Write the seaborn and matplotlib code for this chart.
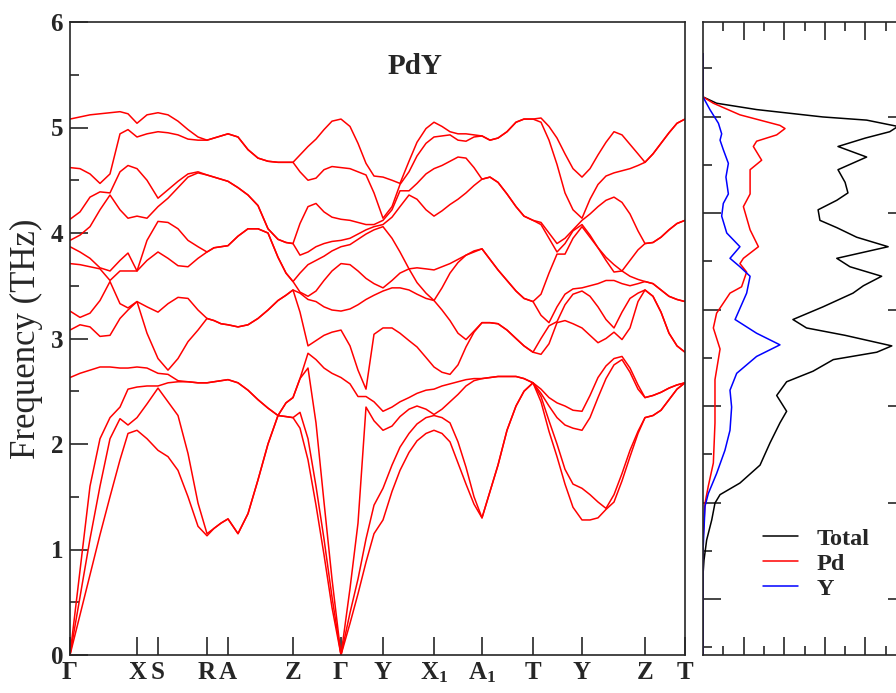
import numpy as np
import pandas as pd
import matplotlib
matplotlib.use('Agg')
import matplotlib.pyplot as plt
from matplotlib.lines import Line2D
from matplotlib.ticker import MultipleLocator, FixedLocator
import seaborn as sns

# high-symmetry points along the k-path
hs_k = [0, 67, 88, 137, 158, 223, 271, 313, 364, 412, 463, 512, 575, 615]
hs_labels = ['Γ', 'X', 'S', 'R', 'A', 'Z', 'Γ', 'Y', 'X$_1$', 'A$_1$', 'T', 'Y', 'Z', 'T']

# phonon frequencies (THz), 12 branches sorted low->high at each k point
k_gx = [0, 10, 20, 30, 40, 50, 58, 67]
w_gx = [[0, 0, 0, 2.63, 3.08, 3.26, 3.71, 3.87, 3.93, 4.13, 4.62, 5.08],
        [0.38, 0.55, 0.80, 2.67, 3.13, 3.20, 3.70, 3.82, 3.98, 4.20, 4.61, 5.10],
        [0.76, 1.10, 1.60, 2.70, 3.11, 3.24, 3.68, 3.76, 4.06, 4.34, 4.56, 5.12],
        [1.14, 1.60, 2.05, 2.73, 3.02, 3.36, 3.66, 3.67, 4.22, 4.39, 4.47, 5.13],
        [1.50, 2.05, 2.25, 2.73, 3.03, 3.54, 3.55, 3.64, 4.36, 4.38, 4.56, 5.14],
        [1.85, 2.24, 2.35, 2.72, 3.19, 3.33, 3.64, 3.74, 4.22, 4.58, 4.94, 5.15],
        [2.10, 2.18, 2.52, 2.72, 3.27, 3.29, 3.64, 3.81, 4.14, 4.64, 4.98, 5.13],
        [2.13, 2.25, 2.54, 2.73, 3.35, 3.35, 3.64, 3.64, 4.16, 4.61, 4.91, 5.04]]

k_xs = [77, 88]
w_xs = [[2.05, 2.38, 2.55, 2.72, 3.05, 3.30, 3.74, 3.93, 4.14, 4.50, 4.94, 5.12],
        [1.94, 2.53, 2.55, 2.67, 2.81, 3.25, 3.82, 4.11, 4.25, 4.33, 4.96, 5.14]]

k_sr = [98, 108, 118, 128, 137]
w_sr = [[1.88, 2.40, 2.58, 2.66, 2.70, 3.33, 3.76, 4.10, 4.33, 4.41, 4.95, 5.12],
        [1.75, 2.27, 2.59, 2.60, 2.81, 3.39, 3.69, 4.04, 4.43, 4.49, 4.93, 5.06],
        [1.50, 1.91, 2.59, 2.59, 2.97, 3.38, 3.68, 3.93, 4.53, 4.56, 4.89, 4.98],
        [1.22, 1.44, 2.58, 2.58, 3.08, 3.27, 3.76, 3.87, 4.57, 4.58, 4.88, 4.91],
        [1.13, 1.15, 2.58, 2.58, 3.19, 3.19, 3.82, 3.82, 4.55, 4.55, 4.88, 4.88]]

k_ra = [144, 151, 158]
w_ra = [[1.20, 1.20, 2.59, 2.59, 3.17, 3.17, 3.86, 3.86, 4.53, 4.53, 4.90, 4.90],
        [1.25, 1.25, 2.60, 2.60, 3.14, 3.14, 3.87, 3.87, 4.51, 4.51, 4.92, 4.92],
        [1.29, 1.29, 2.61, 2.61, 3.13, 3.13, 3.88, 3.88, 4.49, 4.49, 4.94, 4.94]]

k_az = [168, 178, 188, 198, 208, 216, 223]
w_az = [[1.15, 1.15, 2.58, 2.58, 3.11, 3.11, 3.97, 3.97, 4.43, 4.43, 4.91, 4.91],
        [1.34, 1.34, 2.51, 2.51, 3.13, 3.13, 4.04, 4.04, 4.36, 4.36, 4.79, 4.79],
        [1.66, 1.66, 2.42, 2.42, 3.19, 3.19, 4.04, 4.04, 4.26, 4.26, 4.71, 4.71],
        [2.00, 2.00, 2.34, 2.34, 3.27, 3.27, 4.00, 4.00, 4.04, 4.04, 4.68, 4.68],
        [2.27, 2.27, 2.27, 2.27, 3.36, 3.36, 3.77, 3.77, 3.94, 3.94, 4.67, 4.67],
        [2.26, 2.26, 2.39, 2.39, 3.41, 3.41, 3.62, 3.62, 3.91, 3.91, 4.67, 4.67],
        [2.25, 2.25, 2.44, 2.44, 3.46, 3.46, 3.54, 3.54, 3.90, 3.90, 4.67, 4.67]]

k_zg = [230, 238, 246, 254, 262, 271]
w_zg = [[2.15, 2.30, 2.62, 2.62, 3.25, 3.43, 3.44, 3.62, 3.79, 4.09, 4.58, 4.74],
        [1.85, 2.05, 2.72, 2.86, 2.93, 3.37, 3.40, 3.70, 3.82, 4.25, 4.50, 4.82],
        [1.42, 1.60, 2.20, 2.80, 2.98, 3.35, 3.45, 3.74, 3.87, 4.28, 4.52, 4.89],
        [0.95, 1.10, 1.45, 2.72, 3.03, 3.30, 3.55, 3.78, 3.90, 4.20, 4.60, 4.98],
        [0.45, 0.55, 0.72, 2.67, 3.06, 3.27, 3.64, 3.83, 3.92, 4.15, 4.63, 5.06],
        [0, 0, 0, 2.63, 3.08, 3.26, 3.71, 3.87, 3.93, 4.13, 4.62, 5.08]]

k_gy = [280, 288, 296, 304, 313]
w_gy = [[0.30, 0.40, 0.63, 2.57, 2.93, 3.28, 3.70, 3.89, 3.95, 4.12, 4.61, 5.01],
        [0.58, 0.72, 1.25, 2.45, 2.70, 3.32, 3.64, 3.94, 3.99, 4.10, 4.58, 4.85],
        [0.88, 1.10, 2.35, 2.45, 2.52, 3.37, 3.57, 3.99, 4.03, 4.08, 4.55, 4.66],
        [1.15, 1.42, 2.22, 2.40, 3.04, 3.41, 3.52, 4.03, 4.06, 4.08, 4.38, 4.54],
        [1.28, 1.58, 2.13, 2.31, 3.10, 3.45, 3.48, 4.06, 4.08, 4.12, 4.14, 4.53]]

k_yx1 = [322, 330, 339, 347, 356, 364]
w_yx1 = [[1.55, 1.80, 2.17, 2.35, 3.10, 3.48, 3.55, 3.95, 4.15, 4.22, 4.25, 4.50],
         [1.75, 1.97, 2.26, 2.40, 3.05, 3.48, 3.62, 3.82, 4.25, 4.40, 4.46, 4.47],
         [1.92, 2.10, 2.33, 2.44, 2.98, 3.46, 3.66, 3.66, 4.36, 4.40, 4.58, 4.68],
         [2.03, 2.19, 2.36, 2.48, 2.92, 3.42, 3.53, 3.67, 4.32, 4.47, 4.73, 4.86],
         [2.10, 2.25, 2.33, 2.51, 2.82, 3.38, 3.43, 3.66, 4.22, 4.56, 4.85, 4.99],
         [2.13, 2.27, 2.28, 2.52, 2.73, 3.36, 3.36, 3.65, 4.16, 4.61, 4.91, 5.05]]

k_x1a1 = [372, 380, 388, 396, 404, 412]
w_x1a1 = [[2.10, 2.25, 2.33, 2.55, 2.68, 3.27, 3.48, 3.68, 4.21, 4.64, 4.92, 5.01],
          [2.02, 2.20, 2.40, 2.57, 2.66, 3.17, 3.62, 3.71, 4.27, 4.68, 4.93, 4.96],
          [1.82, 2.02, 2.47, 2.59, 2.75, 3.05, 3.72, 3.75, 4.32, 4.72, 4.88, 4.94],
          [1.62, 1.78, 2.55, 2.61, 2.92, 2.99, 3.79, 3.79, 4.38, 4.71, 4.87, 4.94],
          [1.43, 1.50, 2.60, 2.62, 3.06, 3.07, 3.82, 3.83, 4.45, 4.62, 4.91, 4.93],
          [1.30, 1.30, 2.62, 2.62, 3.15, 3.15, 3.85, 3.85, 4.51, 4.51, 4.92, 4.92]]

k_a1t = [420, 428, 437, 446, 454, 463]
w_a1t = [[1.55, 1.55, 2.63, 2.63, 3.15, 3.15, 3.75, 3.75, 4.53, 4.53, 4.88, 4.88],
         [1.80, 1.80, 2.64, 2.64, 3.14, 3.14, 3.65, 3.65, 4.48, 4.48, 4.90, 4.90],
         [2.13, 2.13, 2.64, 2.64, 3.08, 3.08, 3.55, 3.55, 4.37, 4.37, 4.96, 4.96],
         [2.36, 2.36, 2.64, 2.64, 3.00, 3.00, 3.45, 3.45, 4.25, 4.25, 5.05, 5.05],
         [2.50, 2.50, 2.62, 2.62, 2.93, 2.93, 3.38, 3.38, 4.16, 4.16, 5.08, 5.08],
         [2.58, 2.58, 2.58, 2.58, 2.87, 2.87, 3.35, 3.35, 4.12, 4.12, 5.08, 5.08]]

k_ty = [471, 479, 487, 495, 503, 512]
w_ty = [[2.40, 2.45, 2.48, 2.52, 2.85, 3.00, 3.22, 3.42, 4.08, 4.10, 5.05, 5.09],
        [2.12, 2.22, 2.36, 2.44, 2.95, 3.12, 3.15, 3.62, 3.95, 4.00, 4.88, 5.01],
        [1.88, 2.00, 2.25, 2.39, 3.15, 3.16, 3.30, 3.80, 3.82, 3.90, 4.65, 4.90],
        [1.62, 1.76, 2.18, 2.36, 3.17, 3.32, 3.42, 3.80, 3.90, 3.95, 4.38, 4.75],
        [1.40, 1.62, 2.15, 2.32, 3.14, 3.42, 3.47, 3.95, 4.02, 4.03, 4.22, 4.61],
        [1.28, 1.58, 2.13, 2.31, 3.10, 3.45, 3.48, 4.06, 4.08, 4.12, 4.14, 4.53]]

k_yz = [520, 528, 536, 544, 552, 560, 568, 575]
w_yz = [[1.28, 1.52, 2.25, 2.46, 3.03, 3.40, 3.50, 3.96, 3.98, 4.18, 4.32, 4.61],
        [1.30, 1.45, 2.44, 2.63, 2.96, 3.30, 3.52, 3.86, 3.86, 4.25, 4.46, 4.74],
        [1.38, 1.39, 2.62, 2.74, 3.00, 3.18, 3.55, 3.74, 3.77, 4.31, 4.54, 4.86],
        [1.45, 1.52, 2.75, 2.81, 3.06, 3.10, 3.55, 3.63, 3.70, 4.34, 4.57, 4.96],
        [1.65, 1.72, 2.80, 2.83, 2.99, 3.25, 3.52, 3.64, 3.64, 4.29, 4.59, 4.93],
        [1.88, 1.94, 2.68, 2.72, 3.10, 3.38, 3.50, 3.59, 3.74, 4.18, 4.61, 4.84],
        [2.10, 2.12, 2.52, 2.56, 3.35, 3.43, 3.52, 3.56, 3.84, 4.02, 4.64, 4.75],
        [2.25, 2.25, 2.44, 2.44, 3.46, 3.46, 3.54, 3.54, 3.90, 3.90, 4.67, 4.67]]

k_zt = [583, 591, 599, 607, 615]
w_zt = [[2.27, 2.27, 2.46, 2.46, 3.40, 3.40, 3.52, 3.52, 3.91, 3.91, 4.75, 4.75],
        [2.32, 2.32, 2.49, 2.49, 3.25, 3.25, 3.46, 3.46, 3.96, 3.96, 4.85, 4.85],
        [2.42, 2.42, 2.53, 2.53, 3.05, 3.05, 3.40, 3.40, 4.03, 4.03, 4.95, 4.95],
        [2.52, 2.52, 2.56, 2.56, 2.93, 2.93, 3.37, 3.37, 4.09, 4.09, 5.04, 5.04],
        [2.58, 2.58, 2.58, 2.58, 2.87, 2.87, 3.35, 3.35, 4.12, 4.12, 5.08, 5.08]]

# phonon DOS (arbitrary units) vs frequency (THz)
tot_freq = [0.0, 0.76, 0.90, 1.09, 1.28, 1.44, 1.52, 1.63, 1.80, 2.01, 2.20, 2.31, 2.46,
            2.59, 2.69, 2.80, 2.87, 2.93, 3.03, 3.10, 3.18, 3.30, 3.43, 3.50, 3.59, 3.68,
            3.76, 3.87, 3.96, 4.05, 4.12, 4.22, 4.31, 4.38, 4.48, 4.60, 4.72, 4.82, 4.90,
            4.96, 5.01, 5.07, 5.10, 5.17, 5.23, 5.29, 5.70]
tot_dos = [0.0, 0.0, 0.05, 0.18, 0.43, 0.59, 0.84, 1.82, 2.81, 3.30, 3.79, 4.12, 3.63,
           4.12, 5.42, 6.42, 8.56, 9.30, 7.00, 5.10, 4.43, 5.91, 7.39, 7.90, 8.80, 7.24,
           6.59, 9.12, 7.57, 6.60, 5.76, 5.67, 6.59, 7.14, 7.00, 6.65, 8.06, 6.65, 8.00,
           9.20, 9.60, 8.06, 5.90, 2.64, 0.67, 0.0, 0.0]
pd_freq = [0.0, 1.09, 1.44, 1.60, 1.82, 2.20, 2.61, 2.90, 3.10, 3.24, 3.43, 3.49, 3.63,
           3.71, 3.76, 3.87, 4.03, 4.25, 4.37, 4.60, 4.69, 4.82, 4.87, 4.93, 4.99, 5.02,
           5.12, 5.23, 5.29, 5.70]
pd_dos = [0.0, 0.0, 0.10, 0.26, 0.51, 0.59, 0.59, 0.84, 0.51, 0.67, 1.33, 1.90, 2.15,
          1.82, 1.99, 2.73, 2.32, 1.99, 2.32, 2.32, 2.89, 2.48, 2.64, 3.63, 4.04, 3.79,
          1.82, 0.51, 0.0, 0.0]
y_freq = [0.0, 0.98, 1.41, 1.53, 1.72, 1.94, 2.13, 2.35, 2.51, 2.67, 2.83, 2.94, 3.05,
          3.18, 3.43, 3.59, 3.68, 3.76, 3.87, 4.00, 4.16, 4.28, 4.37, 4.53, 4.66, 4.79,
          4.88, 4.94, 5.04, 5.17, 5.29, 5.70]
y_dos = [0.0, 0.0, 0.10, 0.26, 0.67, 1.08, 1.33, 1.41, 1.33, 1.66, 2.64, 3.79, 2.64,
         1.58, 2.15, 2.32, 1.82, 1.33, 1.82, 1.17, 0.92, 1.00, 1.25, 1.13, 1.25, 1.00,
         0.84, 0.92, 0.76, 0.34, 0.0, 0.0]

# build long-form tables
segments = [(k_gx, w_gx), (k_xs, w_xs), (k_sr, w_sr), (k_ra, w_ra), (k_az, w_az),
            (k_zg, w_zg), (k_gy, w_gy), (k_yx1, w_yx1), (k_x1a1, w_x1a1), (k_a1t, w_a1t),
            (k_ty, w_ty), (k_yz, w_yz), (k_zt, w_zt)]
k_all = np.concatenate([k for k, w in segments])
w_all = np.vstack([w for k, w in segments])
nb = w_all.shape[1]
bands = pd.DataFrame({'k': np.repeat(k_all, nb),
                      'freq': w_all.ravel(),
                      'band': np.tile(np.arange(nb), len(k_all))})

dos = pd.concat([pd.DataFrame({'freq': tot_freq, 'dos': tot_dos, 'part': 'Total'}),
                 pd.DataFrame({'freq': pd_freq, 'dos': pd_dos, 'part': 'Pd'}),
                 pd.DataFrame({'freq': y_freq, 'dos': y_dos, 'part': 'Y'})])
colors = {'Total': 'black', 'Pd': 'red', 'Y': 'blue'}

sns.set_style('ticks')
plt.rcParams['font.family'] = ['Liberation Serif', 'DejaVu Serif']
plt.rcParams['mathtext.fontset'] = 'custom'
plt.rcParams['mathtext.rm'] = 'Liberation Serif:bold'
plt.rcParams['mathtext.it'] = 'Liberation Serif:bold'
plt.rcParams['axes.linewidth'] = 1.2

fig = plt.figure(figsize=(8.96, 6.93), dpi=100)
ax1 = fig.add_axes([70 / 896, 38 / 693, 615 / 896, 633 / 693])
ax2 = fig.add_axes([703 / 896, 38 / 693, 203 / 896, 633 / 693])

# band structure
sns.lineplot(data=bands, x='k', y='freq', units='band', estimator=None,
             color='red', lw=1.1, ax=ax1, legend=False)
ax1.set_xlim(0, 615)
ax1.set_ylim(0, 6)
ax1.set_xticks(hs_k, hs_labels)
ax1.yaxis.set_major_locator(MultipleLocator(1))
ax1.yaxis.set_minor_locator(MultipleLocator(0.5))
ax1.tick_params(axis='y', which='major', direction='in', length=13, width=1.2,
                labelsize=18, pad=5)
ax1.tick_params(axis='y', which='minor', direction='in', length=6.5, width=1.2)
ax1.tick_params(axis='x', direction='in', length=13, width=1.2, labelsize=18, pad=4)
for lab in ax1.get_xticklabels() + ax1.get_yticklabels():
    lab.set_fontweight('bold')
ax1.set_xlabel('')
ax1.set_ylabel('Frequency (THz)', fontsize=25, labelpad=5)
ax1.text(0.561, 0.929, 'PdY', transform=ax1.transAxes, ha='center', va='center',
         fontsize=21, fontweight='bold')

# DOS panel
sns.lineplot(data=dos, x='dos', y='freq', hue='part', palette=colors, orient='y',
             estimator=None, lw=1.1, ax=ax2, legend=False)
ax2.set_xlim(0, 10)
ax2.set_ylim(0, 6)
ax2.xaxis.set_major_locator(FixedLocator([2, 4, 6, 8, 10]))
ax2.xaxis.set_minor_locator(FixedLocator([1, 3, 5, 7, 9]))
ax2.yaxis.set_major_locator(FixedLocator(0.531 + 0.914 * np.arange(6)))
ax2.yaxis.set_minor_locator(FixedLocator(0.076 + 0.914 * np.arange(7)))
ax2.tick_params(which='both', direction='in', width=1.2, top=True, bottom=True,
                left=True, right=True, labelbottom=False, labelleft=False)
ax2.tick_params(which='major', length=13)
ax2.tick_params(which='minor', length=6.5)
ax2.set_xlabel('')
ax2.set_ylabel('')

handles = [Line2D([], [], color=colors[p], lw=1.1) for p in ['Total', 'Pd', 'Y']]
ax2.legend(handles, ['Total', 'Pd', 'Y'], loc='center left', bbox_to_anchor=(0.246, 0.144),
           frameon=False, prop={'size': 17.5, 'weight': 'bold'}, handlelength=1.45,
           handletextpad=0.75, labelspacing=0.12, borderaxespad=0, borderpad=0.4)

fig.savefig('out.png', dpi=100)
